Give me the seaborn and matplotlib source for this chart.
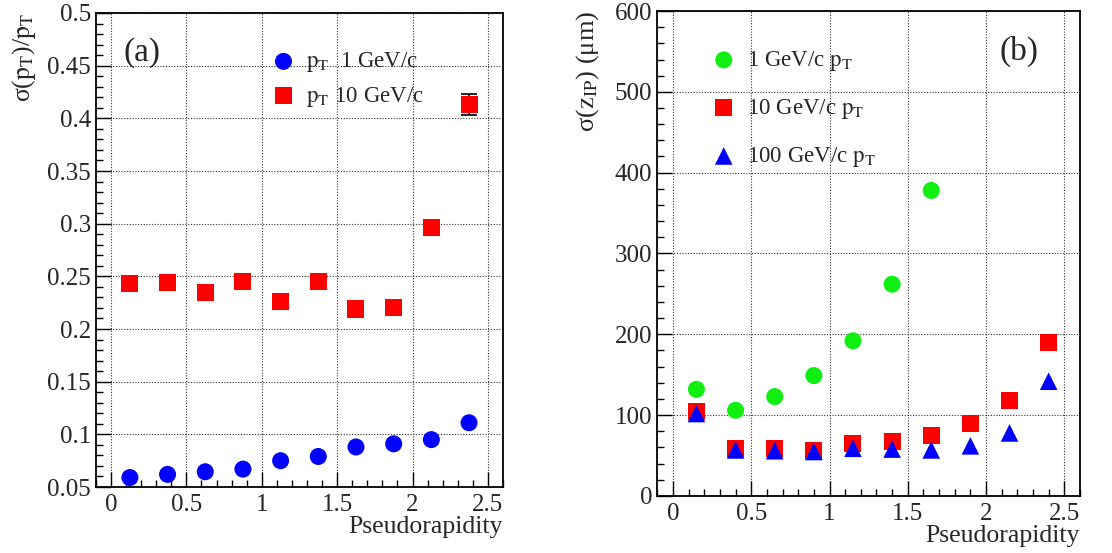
import pandas as pd
import seaborn as sns
import numpy as np
import matplotlib.pyplot as plt
from matplotlib.ticker import MultipleLocator

# panel (a): relative pT resolution
eta_a = [0.125, 0.375, 0.625, 0.875, 1.125, 1.375, 1.625, 1.875, 2.125, 2.375]
res_1gev = [0.059, 0.062, 0.0645, 0.067, 0.075, 0.079, 0.088, 0.091, 0.095, 0.111]
res_10gev = [0.243, 0.244, 0.235, 0.245, 0.226, 0.245, 0.219, 0.220, 0.296, 0.413]
err_10gev = [0.001, 0.001, 0.001, 0.001, 0.001, 0.001, 0.001, 0.001, 0.002, 0.010]

# panel (b): z impact parameter resolution (um)
eta_b = [0.15, 0.40, 0.65, 0.90, 1.15, 1.40, 1.65, 1.90, 2.15, 2.40]
zip_1gev = [132, 106, 123, 149, 192, 262, 378]
zip_10gev = [105, 59, 59, 56, 65, 67, 75, 90, 118, 190]
zip_100gev = [102, 57, 56, 55, 59, 58, 57, 62, 78, 142]

df_a = pd.DataFrame({'eta': eta_a, 'r1': res_1gev, 'r10': res_10gev})

sns.set_theme(style='ticks')
plt.rcParams['font.family'] = ['Liberation Serif', 'DejaVu Serif']
plt.rcParams['mathtext.fontset'] = 'stix'

fig = plt.figure(figsize=(11.12, 5.53), dpi=100)
ax1 = fig.add_axes([0.0863, 0.1193, 0.366, 0.8572])
ax2 = fig.add_axes([0.5911, 0.1031, 0.3801, 0.8770])

blue = '#0000ff'
red = '#ff0000'
green = '#11ee11'

# ---- panel (a)
ax1.errorbar(eta_a, res_10gev, yerr=err_10gev, fmt='none', ecolor='black',
             elinewidth=1.2, capsize=6, capthick=1.2, zorder=2)
sns.scatterplot(data=df_a, x='eta', y='r1', ax=ax1, color=blue, marker='o',
                s=150, edgecolor='none', label=r'$\mathrm{p_T}$  1 GeV/c', zorder=3)
sns.scatterplot(data=df_a, x='eta', y='r10', ax=ax1, color=red, marker='s',
                s=150, edgecolor='none', label=r'$\mathrm{p_T}$ 10 GeV/c', zorder=3)
ax1.set_xlim(-0.1, 2.6)
ax1.set_ylim(0.05, 0.5)
ax1.yaxis.set_minor_locator(MultipleLocator(0.01))
ax1.set_yticks(np.arange(0.05, 0.501, 0.05))
ax1.set_yticklabels(['0.05', '0.1', '0.15', '0.2', '0.25', '0.3', '0.35', '0.4', '0.45', '0.5'])
ax1.set_ylabel('σ($\\mathrm{p_T}$)/$\\mathrm{p_T}$', fontsize=18.5, loc='top', labelpad=7)
ax1.text(0.068, 0.9, '(a)', transform=ax1.transAxes, fontsize=24)
ax1.legend(loc='upper left', bbox_to_anchor=(0.365, 0.955), frameon=False,
           fontsize=16.5, handletextpad=0.0, labelspacing=0.45, borderpad=0.2)

# ---- panel (b)
sns.scatterplot(x=eta_b[:len(zip_1gev)], y=zip_1gev, ax=ax2, color=green, marker='o',
                s=150, edgecolor='none', label=r'1 GeV/c $\mathrm{p_T}$', zorder=3)
sns.scatterplot(x=eta_b, y=zip_10gev, ax=ax2, color=red, marker='s',
                s=150, edgecolor='none', label=r'10 GeV/c $\mathrm{p_T}$', zorder=3)
sns.scatterplot(x=eta_b, y=zip_100gev, ax=ax2, color=blue, marker='^',
                s=160, edgecolor='none', label=r'100 GeV/c $\mathrm{p_T}$', zorder=4)
ax2.set_xlim(-0.1, 2.6)
ax2.set_ylim(0, 600)
ax2.yaxis.set_major_locator(MultipleLocator(100))
ax2.yaxis.set_minor_locator(MultipleLocator(20))
ax2.set_ylabel('σ($\\mathrm{z_{IP}}$) (μm)', fontsize=19, loc='top', labelpad=10)
ax2.text(0.81, 0.9, '(b)', transform=ax2.transAxes, fontsize=24)
ax2.legend(loc='upper left', bbox_to_anchor=(0.065, 0.955), frameon=False,
           fontsize=16.5, handletextpad=0.0, labelspacing=1.05, borderpad=0.2)

for ax in (ax1, ax2):
    ax.xaxis.set_minor_locator(MultipleLocator(0.1))
    ax.set_xticks([0, 0.5, 1, 1.5, 2, 2.5])
    ax.set_xticklabels(['0', '0.5', '1', '1.5', '2', '2.5'])
    ax.grid(True, which='major', linestyle=(0, (1, 1.5)), color='#333333', linewidth=0.8)
    ax.set_axisbelow(True)
    ax.tick_params(which='both', direction='in', labelsize=18, top=False, right=False,
                   left=True, bottom=True, color='black')
    ax.tick_params(which='major', length=11, width=1.0)
    ax.tick_params(which='minor', length=5, width=1.0)
    ax.tick_params(axis='x', pad=5)
    for sp in ax.spines.values():
        sp.set_visible(True)
        sp.set_color('black')
        sp.set_linewidth(1.3)
    ax.set_xlabel('Pseudorapidity', fontsize=18.5, loc='right', labelpad=0)

fig.savefig('out.png', dpi=100)
